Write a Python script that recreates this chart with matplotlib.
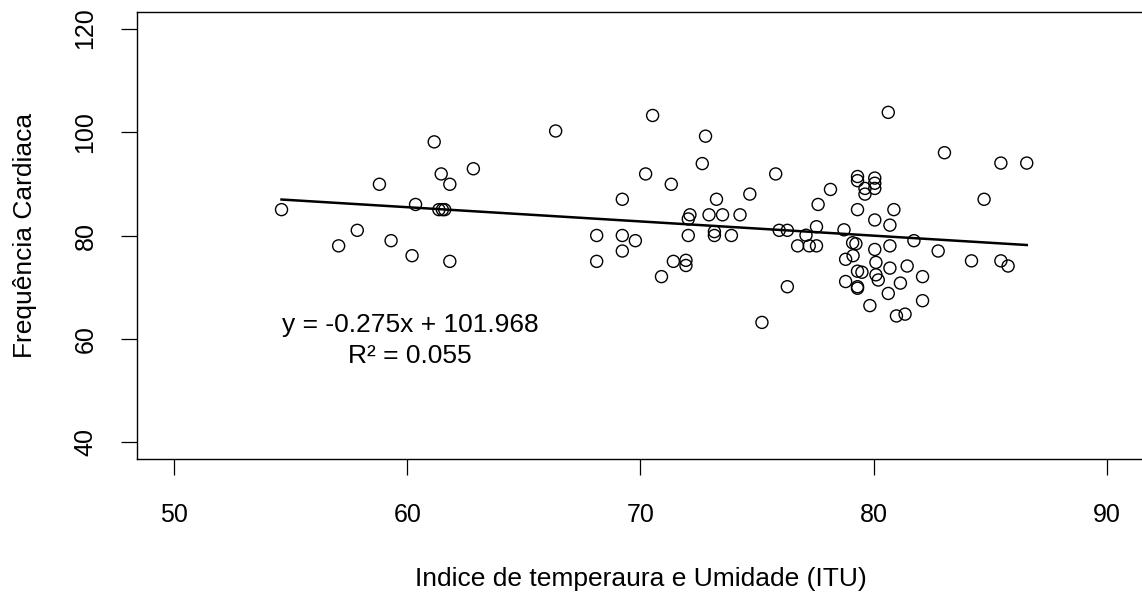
import matplotlib
matplotlib.use("Agg")
import matplotlib.pyplot as plt
import numpy as np

# Indice de temperatura e umidade (ITU) vs frequencia cardiaca
itu = [
    54.6, 57.05, 57.85, 58.8, 59.3, 60.2, 60.35, 61.15, 61.35, 61.5,
    61.6, 61.45, 61.82, 61.82, 62.83,
    66.36, 68.12, 68.12, 69.22, 69.22, 69.22, 69.78, 70.22, 70.52, 70.9,
    71.32, 71.41, 71.95, 71.95, 72.05, 72.12, 72.05, 72.65, 72.79, 72.94,
    73.17, 73.17, 73.26, 73.52, 73.9, 74.27, 74.69, 75.21, 75.8, 75.95,
    76.3, 76.3, 76.74, 77.1, 77.24, 77.55, 77.55, 77.62, 78.15,
    78.73, 78.8, 78.8, 79.12, 79.1, 79.24, 79.31, 79.31, 79.31, 79.31,
    79.5, 79.31, 79.31, 79.63, 79.63, 79.84, 80.05, 80.05, 80.05, 80.05,
    80.05, 80.1, 80.1, 80.2, 80.63, 80.63, 80.7, 80.7, 80.7, 80.87,
    80.98, 81.15, 81.35, 81.44, 81.73, 82.1, 82.1, 82.77, 83.04, 84.2,
    84.74, 85.46, 85.46, 85.77, 86.57,
]
freq = [
    85.0, 78.0, 81.0, 89.9, 79.0, 76.1, 86.0, 98.1, 85.0, 85.0,
    85.0, 91.9, 89.9, 75.0, 92.9,
    100.2, 80.0, 75.0, 87.0, 80.0, 77.0, 79.0, 91.9, 103.2, 72.05,
    89.9, 75.0, 75.2, 74.2, 80.0, 84.0, 83.2, 93.9, 99.2, 84.0,
    80.75, 80.0, 87.0, 84.0, 80.0, 84.0, 88.0, 63.2, 91.9, 81.0,
    81.0, 70.1, 78.0, 80.05, 78.0, 78.0, 81.7, 86.0, 88.9,
    81.1, 75.4, 71.1, 76.1, 78.6, 78.4, 91.4, 90.6, 85.0, 73.1,
    72.9, 70.1, 69.8, 89.1, 88.0, 66.45, 91.1, 90.1, 89.1, 83.0,
    77.3, 74.8, 72.4, 71.4, 103.8, 68.8, 82.0, 78.0, 73.7, 85.0,
    64.45, 70.8, 64.8, 74.1, 79.0, 72.05, 67.4, 77.0, 96.0, 75.1,
    87.0, 94.0, 75.1, 74.1, 94.0,
]

slope = -0.275
intercept = 101.968
r2 = 0.055

x_ticks = [50, 60, 70, 80, 90]
y_ticks = [40, 60, 80, 100, 120]

plt.rcParams["font.family"] = ["Liberation Sans", "DejaVu Sans"]

fig = plt.figure(figsize=(11.42, 5.92), dpi=100)
# right edge of the box falls just outside the picture, as in the cropped original
ax = fig.add_axes([137 / 1142, 133 / 592, 1009 / 1142, 447 / 592])

ax.scatter(itu, freq, s=75, facecolors="none", edgecolors="black", linewidths=1.0, zorder=3)

xs = np.array([min(itu), max(itu)])
ax.plot(xs, slope * xs + intercept, color="black", linewidth=1.8, zorder=2)

ax.text(60.12, 61.35, f"y = {slope}x + {intercept}", fontsize=19, ha="center", va="baseline")
ax.text(60.12, 55.4, f"R\u00b2 = {r2}", fontsize=19, ha="center", va="baseline")

ax.set_xlim(48.4, 91.686)
ax.set_ylim(36.8, 123.2)
ax.set_xticks(x_ticks)
ax.set_yticks(y_ticks)
ax.tick_params(axis="both", direction="out", length=11.5, width=0.9, labelsize=18)
ax.tick_params(axis="x", pad=20)
ax.tick_params(axis="y", pad=17)
for lab in ax.get_yticklabels():
    lab.set_rotation(90)
    lab.set_va("center")
for sp in ax.spines.values():
    sp.set_linewidth(1.0)

fig.text(640.5 / 1142, 6 / 592, "Indice de temperaura e Umidade (ITU)", fontsize=19, ha="center", va="baseline")
fig.text(25.5 / 1142, 1 - 235 / 592, "Frequência Cardiaca", fontsize=19, ha="center", va="center", rotation=90)

fig.savefig("out.png", dpi=100)
